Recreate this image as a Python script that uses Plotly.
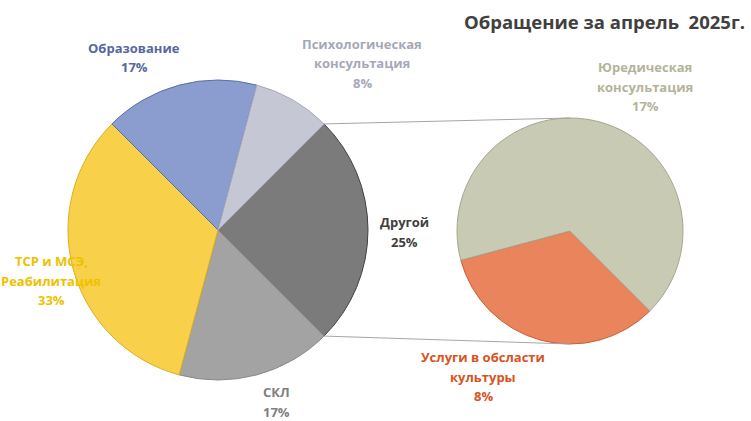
import math
import plotly.graph_objects as go

W, H = 751, 421

# data: number of requests, April 2025
other_labels = ["Услуги в обсласти<br>культуры", "Юредическая<br>консультация"]
other_values = [1, 2]

main_labels = ["Другой", "СКЛ", "ТСР и МСЭ,<br>Реабилитация", "Образование", "Психологическая<br>консультация"]
main_values = [sum(other_values), 2, 4, 2, 1]

main_colors = ["#7b7b7b", "#a3a3a3", "#f8d04a", "#8b9dcf", "#c5c7d4"]
main_lines = ["#404040", "#8a8a8a", "#d8b020", "#5a6ea8", "#a8aab8"]
main_text = ["#404040", "#7f7f7f", "#f0c000", "#5568a0", "#a6a8b8"]

other_colors = ["#e9845c", "#c9cab3"]
other_lines = ["#c8603a", "#a6a78e"]
other_text = ["#d9531e", "#b3b49a"]

# geometry in screen pixels (center x, center y, radius)
main_pie = (218, 230, 150)
other_pie = (570, 231, 113)


def px(x, y):
    return x / W, 1 - y / H


def domain(p):
    cx, cy, r = p
    x0, y0 = px(cx - r, cy + r)
    x1, y1 = px(cx + r, cy - r)
    return dict(x=[x0, x1], y=[y0, y1])


fig = go.Figure()
fig.add_trace(go.Pie(
    labels=main_labels, values=main_values, sort=False, direction="clockwise", rotation=45,
    textinfo="none", hoverinfo="label+percent", domain=domain(main_pie),
    marker=dict(colors=main_colors, line=dict(color=main_lines, width=1)),
))
fig.add_trace(go.Pie(
    labels=other_labels, values=other_values, sort=False, direction="clockwise", rotation=135,
    textinfo="none", hoverinfo="label+value", domain=domain(other_pie),
    marker=dict(colors=other_colors, line=dict(color=other_lines, width=1)),
))

# connector lines from the "Другой" slice edges to the second pie
cx, cy, r = main_pie
a0 = math.radians(45)
a1 = math.radians(45 + 360 * main_values[0] / sum(main_values))
cx2, cy2, r2 = other_pie
for a, y2 in [(a0, cy2 - r2), (a1, cy2 + r2)]:
    x0, y0 = px(cx + r * math.sin(a), cy - r * math.cos(a))
    x1, y1 = px(cx2, y2)
    fig.add_shape(type="line", xref="paper", yref="paper", x0=x0, y0=y0, x1=x1, y1=y1,
                  line=dict(color="#a6a6a6", width=1))

total = sum(main_values)
# first-line centers of the labels
main_pos = [(405, 222), (276, 392), (51, 261), (134, 48), (362, 44)]
other_pos = [(483, 357), (645, 67)]
LINE = 19.5


def add_label(lab, v, col, pos):
    lines = lab.split("<br>") + [f"{round(100 * v / total)}%"]
    for i, t in enumerate(lines):
        x, y = px(pos[0], pos[1] + i * LINE)
        fig.add_annotation(x=x, y=y, xref="paper", yref="paper", showarrow=False,
                           xanchor="center", yanchor="middle", text=f"<b>{t}</b>",
                           font=dict(color=col, size=13, family="Open Sans"))


for lab, v, col, pos in zip(main_labels, main_values, main_text, main_pos):
    add_label(lab, v, col, pos)
for lab, v, col, pos in zip(other_labels, other_values, other_text, other_pos):
    add_label(lab, v, col, pos)

tx, ty = px(747, 22)
fig.add_annotation(x=tx, y=ty, xref="paper", yref="paper", showarrow=False,
                   xanchor="right", yanchor="middle", text="<b>Обращение за апрель  2025г.</b>",
                   font=dict(color="#404040", size=18.5, family="Open Sans"))

fig.update_layout(width=W, height=H, margin=dict(l=0, r=0, t=0, b=0),
                  paper_bgcolor="white", showlegend=False)
# drop the page's default body margin so the figure fills the window
fig.write_html("out.html", config={"displayModeBar": False},
               post_script="document.body.style.margin = '0px';")
